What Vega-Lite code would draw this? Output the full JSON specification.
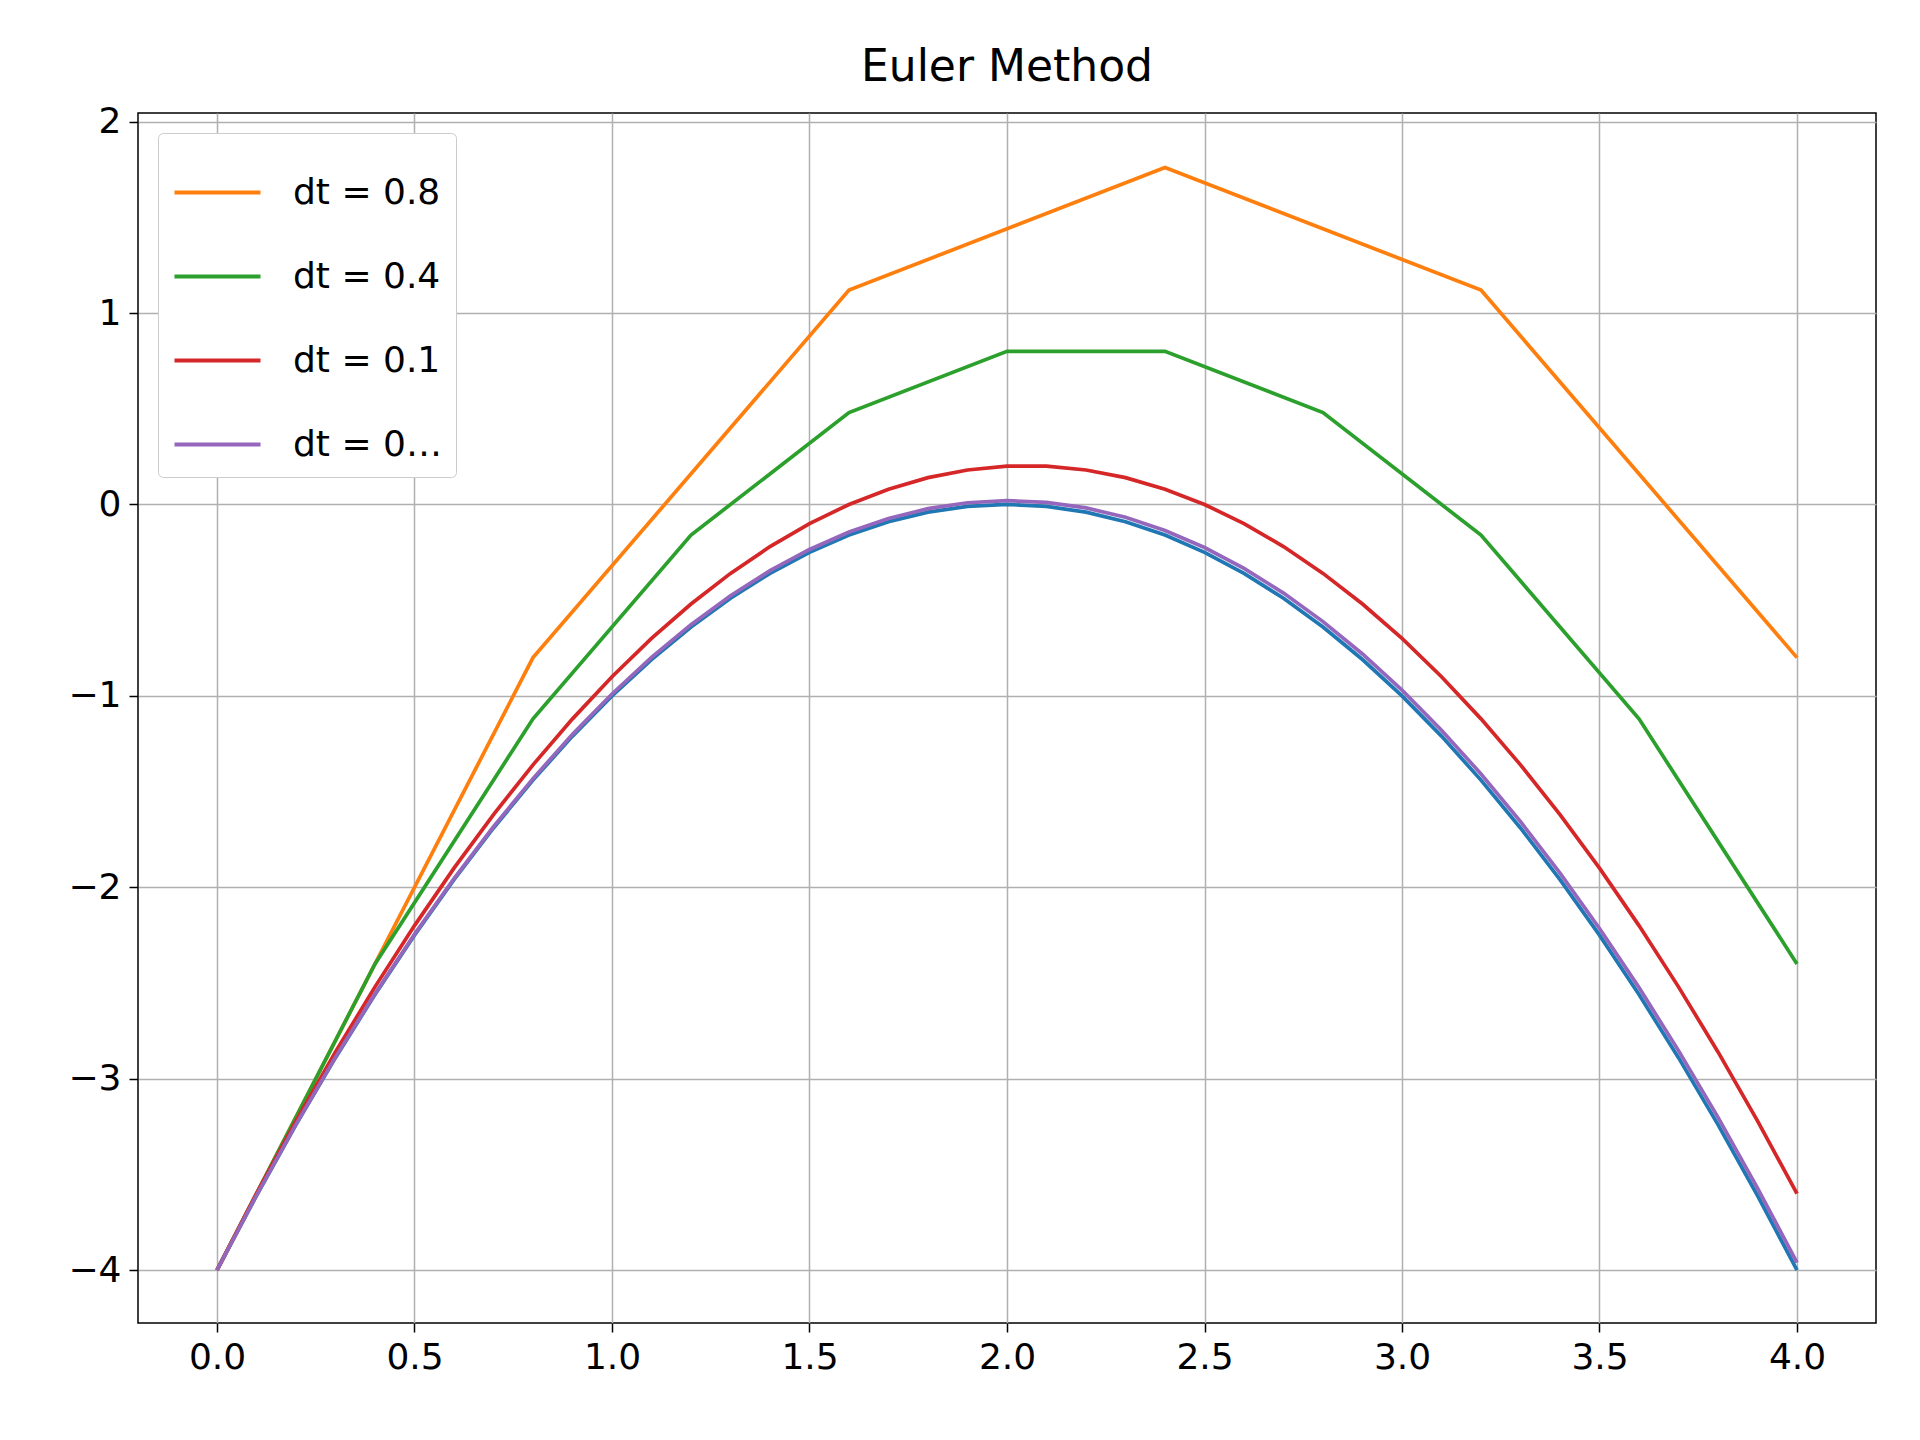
{
  "$schema": "https://vega.github.io/schema/vega-lite/v6.json",
  "width": 1738,
  "height": 1210,
  "autosize": "none",
  "padding": {"left": 138, "top": 113, "right": 44, "bottom": 117},
  "background": "white",
  "title": {"text": "Euler Method", "font": "DejaVu Sans", "fontSize": 44, "fontWeight": "normal", "color": "black", "offset": 14},
  "config": {
    "font": "DejaVu Sans",
    "view": {"stroke": "black", "strokeWidth": 1.5},
    "axis": {"labelFont": "DejaVu Sans", "labelFontSize": 36, "labelColor": "black", "grid": true, "gridColor": "#b0b0b0", "gridWidth": 1.5, "tickColor": "black", "tickSize": 9, "tickWidth": 1.5, "domain": false, "title": null, "labelPadding": 8}
  },
  "datasets": {
    "exact": [
      {"t":0,"y":-4},{"t":0.1,"y":-3.61},{"t":0.2,"y":-3.24},{"t":0.3,"y":-2.89},{"t":0.4,"y":-2.56},{"t":0.5,"y":-2.25},{"t":0.6,"y":-1.96},{"t":0.7,"y":-1.69},{"t":0.8,"y":-1.44},{"t":0.9,"y":-1.21},{"t":1.0,"y":-1},{"t":1.1,"y":-0.81},{"t":1.2,"y":-0.64},{"t":1.3,"y":-0.49},{"t":1.4,"y":-0.36},{"t":1.5,"y":-0.25},{"t":1.6,"y":-0.16},{"t":1.7,"y":-0.09},{"t":1.8,"y":-0.04},{"t":1.9,"y":-0.01},{"t":2.0,"y":0},
      {"t":2.1,"y":-0.01},{"t":2.2,"y":-0.04},{"t":2.3,"y":-0.09},{"t":2.4,"y":-0.16},{"t":2.5,"y":-0.25},{"t":2.6,"y":-0.36},{"t":2.7,"y":-0.49},{"t":2.8,"y":-0.64},{"t":2.9,"y":-0.81},{"t":3.0,"y":-1},{"t":3.1,"y":-1.21},{"t":3.2,"y":-1.44},{"t":3.3,"y":-1.69},{"t":3.4,"y":-1.96},{"t":3.5,"y":-2.25},{"t":3.6,"y":-2.56},{"t":3.7,"y":-2.89},{"t":3.8,"y":-3.24},{"t":3.9,"y":-3.61},{"t":4.0,"y":-4}
    ],
    "euler": [
      {"s":"dt = 0.8","t":0,"y":-4},{"s":"dt = 0.8","t":0.8,"y":-0.8},{"s":"dt = 0.8","t":1.6,"y":1.12},{"s":"dt = 0.8","t":2.4,"y":1.76},{"s":"dt = 0.8","t":3.2,"y":1.12},{"s":"dt = 0.8","t":4.0,"y":-0.8},
      {"s":"dt = 0.4","t":0,"y":-4},{"s":"dt = 0.4","t":0.4,"y":-2.4},{"s":"dt = 0.4","t":0.8,"y":-1.12},{"s":"dt = 0.4","t":1.2,"y":-0.16},{"s":"dt = 0.4","t":1.6,"y":0.48},{"s":"dt = 0.4","t":2.0,"y":0.8},{"s":"dt = 0.4","t":2.4,"y":0.8},{"s":"dt = 0.4","t":2.8,"y":0.48},{"s":"dt = 0.4","t":3.2,"y":-0.16},{"s":"dt = 0.4","t":3.6,"y":-1.12},{"s":"dt = 0.4","t":4.0,"y":-2.4},
      {"s":"dt = 0.1","t":0,"y":-4},{"s":"dt = 0.1","t":0.1,"y":-3.6},{"s":"dt = 0.1","t":0.2,"y":-3.22},{"s":"dt = 0.1","t":0.3,"y":-2.86},{"s":"dt = 0.1","t":0.4,"y":-2.52},{"s":"dt = 0.1","t":0.5,"y":-2.2},{"s":"dt = 0.1","t":0.6,"y":-1.9},{"s":"dt = 0.1","t":0.7,"y":-1.62},{"s":"dt = 0.1","t":0.8,"y":-1.36},{"s":"dt = 0.1","t":0.9,"y":-1.12},{"s":"dt = 0.1","t":1.0,"y":-0.9},{"s":"dt = 0.1","t":1.1,"y":-0.7},{"s":"dt = 0.1","t":1.2,"y":-0.52},{"s":"dt = 0.1","t":1.3,"y":-0.36},{"s":"dt = 0.1","t":1.4,"y":-0.22},{"s":"dt = 0.1","t":1.5,"y":-0.1},{"s":"dt = 0.1","t":1.6,"y":0},{"s":"dt = 0.1","t":1.7,"y":0.08},{"s":"dt = 0.1","t":1.8,"y":0.14},{"s":"dt = 0.1","t":1.9,"y":0.18},{"s":"dt = 0.1","t":2.0,"y":0.2},{"s":"dt = 0.1","t":2.1,"y":0.2},{"s":"dt = 0.1","t":2.2,"y":0.18},{"s":"dt = 0.1","t":2.3,"y":0.14},{"s":"dt = 0.1","t":2.4,"y":0.08},{"s":"dt = 0.1","t":2.5,"y":0},{"s":"dt = 0.1","t":2.6,"y":-0.1},{"s":"dt = 0.1","t":2.7,"y":-0.22},{"s":"dt = 0.1","t":2.8,"y":-0.36},{"s":"dt = 0.1","t":2.9,"y":-0.52},{"s":"dt = 0.1","t":3.0,"y":-0.7},{"s":"dt = 0.1","t":3.1,"y":-0.9},{"s":"dt = 0.1","t":3.2,"y":-1.12},{"s":"dt = 0.1","t":3.3,"y":-1.36},{"s":"dt = 0.1","t":3.4,"y":-1.62},{"s":"dt = 0.1","t":3.5,"y":-1.9},{"s":"dt = 0.1","t":3.6,"y":-2.2},{"s":"dt = 0.1","t":3.7,"y":-2.52},{"s":"dt = 0.1","t":3.8,"y":-2.86},{"s":"dt = 0.1","t":3.9,"y":-3.22},{"s":"dt = 0.1","t":4.0,"y":-3.6},
      {"s":"dt = 0.01","t":0,"y":-4},{"s":"dt = 0.01","t":0.1,"y":-3.609},{"s":"dt = 0.01","t":0.2,"y":-3.238},{"s":"dt = 0.01","t":0.3,"y":-2.887},{"s":"dt = 0.01","t":0.4,"y":-2.556},{"s":"dt = 0.01","t":0.5,"y":-2.245},{"s":"dt = 0.01","t":0.6,"y":-1.954},{"s":"dt = 0.01","t":0.7,"y":-1.683},{"s":"dt = 0.01","t":0.8,"y":-1.432},{"s":"dt = 0.01","t":0.9,"y":-1.201},{"s":"dt = 0.01","t":1.0,"y":-0.99},{"s":"dt = 0.01","t":1.1,"y":-0.799},{"s":"dt = 0.01","t":1.2,"y":-0.628},{"s":"dt = 0.01","t":1.3,"y":-0.477},{"s":"dt = 0.01","t":1.4,"y":-0.346},{"s":"dt = 0.01","t":1.5,"y":-0.235},{"s":"dt = 0.01","t":1.6,"y":-0.144},{"s":"dt = 0.01","t":1.7,"y":-0.073},{"s":"dt = 0.01","t":1.8,"y":-0.022},{"s":"dt = 0.01","t":1.9,"y":0.009},{"s":"dt = 0.01","t":2.0,"y":0.02},{"s":"dt = 0.01","t":2.1,"y":0.011},{"s":"dt = 0.01","t":2.2,"y":-0.018},{"s":"dt = 0.01","t":2.3,"y":-0.067},{"s":"dt = 0.01","t":2.4,"y":-0.136},{"s":"dt = 0.01","t":2.5,"y":-0.225},{"s":"dt = 0.01","t":2.6,"y":-0.334},{"s":"dt = 0.01","t":2.7,"y":-0.463},{"s":"dt = 0.01","t":2.8,"y":-0.612},{"s":"dt = 0.01","t":2.9,"y":-0.781},{"s":"dt = 0.01","t":3.0,"y":-0.97},{"s":"dt = 0.01","t":3.1,"y":-1.179},{"s":"dt = 0.01","t":3.2,"y":-1.408},{"s":"dt = 0.01","t":3.3,"y":-1.657},{"s":"dt = 0.01","t":3.4,"y":-1.926},{"s":"dt = 0.01","t":3.5,"y":-2.215},{"s":"dt = 0.01","t":3.6,"y":-2.524},{"s":"dt = 0.01","t":3.7,"y":-2.853},{"s":"dt = 0.01","t":3.8,"y":-3.202},{"s":"dt = 0.01","t":3.9,"y":-3.571},{"s":"dt = 0.01","t":4.0,"y":-3.96}
    ]
  },
  "encoding": {
    "x": {"field": "t", "type": "quantitative", "scale": {"domain": [-0.2, 4.2], "nice": false, "zero": false}, "axis": {"values": [0, 0.5, 1, 1.5, 2, 2.5, 3, 3.5, 4], "format": ".1f"}},
    "y": {"field": "y", "type": "quantitative", "scale": {"domain": [-4.276, 2.045], "nice": false, "zero": false}, "axis": {"values": [-4, -3, -2, -1, 0, 1, 2], "format": "d"}}
  },
  "layer": [
    {
      "data": {"name": "exact"},
      "mark": {"type": "line", "color": "#1f77b4", "strokeWidth": 3.7}
    },
    {
      "data": {"name": "euler"},
      "mark": {"type": "line", "strokeWidth": 3.7},
      "encoding": {
        "color": {
          "field": "s", "type": "nominal",
          "scale": {"domain": ["dt = 0.8", "dt = 0.4", "dt = 0.1", "dt = 0.01"], "range": ["#ff7f0e", "#2ca02c", "#d62728", "#9467bd"]},
          "legend": {"title": null, "orient": "top-left", "offset": 20, "fillColor": "white", "strokeColor": "#cccccc", "cornerRadius": 5, "padding": 14, "labelFontSize": 36, "labelColor": "black", "labelFont": "DejaVu Sans", "symbolType": "stroke", "symbolStrokeWidth": 4, "symbolSize": 7400, "rowPadding": 20, "labelOffset": 30}
        }
      }
    }
  ]
}
